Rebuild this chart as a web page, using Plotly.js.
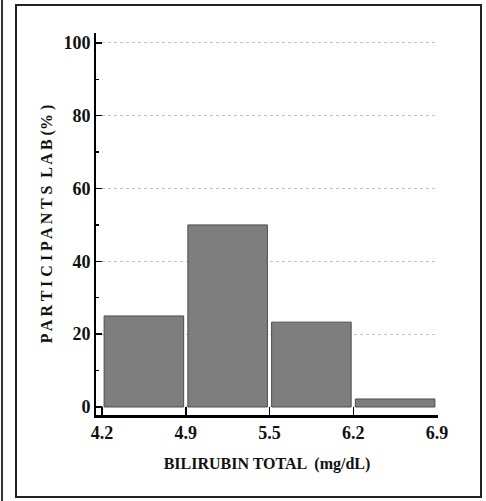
<!DOCTYPE html>
<html><head><meta charset="utf-8">
<script src="https://cdn.plot.ly/plotly-3.0.1.min.js"></script>
<style>html,body{margin:0;padding:0;background:#fff}#c{width:486px;height:501px}</style>
</head><body><div id="c"></div>
<script>
// Data
const binEdges = ["4.2", "4.9", "5.5", "6.2", "6.9"];
const binCenters = [0.5, 1.5, 2.5, 3.5];
const participantsPct = [25, 50, 23.3, 2.2];
const yTicks = [0, 20, 40, 60, 80, 100];

const W = 486, H = 501;
const L = 96, R = 48, T = 33, B = 86;
const pw = W - L - R, ph = H - T - B;
const px = v => (v - L) / pw;
const py = v => (H - B - v) / ph;

const font = "Liberation Serif, Times New Roman, serif";

Plotly.newPlot('c', [{
  type: 'bar',
  x: binCenters,
  y: participantsPct,
  width: 0.95,
  marker: {color: '#7e7e7e', line: {color: '#4d4d4d', width: 1}},
  hoverinfo: 'none'
}], {
  width: W, height: H,
  margin: {l: L, r: R, t: T, b: B, pad: 0},
  paper_bgcolor: '#fff', plot_bgcolor: '#fff',
  showlegend: false,
  xaxis: {
    range: [-0.072, 4.012],
    tickmode: 'array',
    tickvals: [0, 1, 2, 3, 4],
    ticktext: binEdges,
    ticks: 'inside', ticklen: 8, tickwidth: 1.5, tickcolor: '#000',
    showline: true, linecolor: '#000', linewidth: 2.5,
    showgrid: false, zeroline: false,
    tickfont: {family: font, size: 18, color: '#111', weight: 'bold'},
    title: {text: 'BILIRUBIN TOTAL  (mg/dL)', font: {family: font, size: 16, color: '#111', weight: 'bold'}, standoff: 16}
  },
  yaxis: {
    range: [-2.2, 102.7],
    tickmode: 'array',
    tickvals: yTicks,
    ticktext: yTicks.map(String),
    ticks: 'inside', ticklen: 6, tickwidth: 1.5, tickcolor: '#000',
    minor: {tickvals: [10, 30, 50, 70, 90], ticks: 'inside', ticklen: 3, tickcolor: '#000', showgrid: false},
    showline: true, linecolor: '#000', linewidth: 2,
    showgrid: true, gridcolor: '#c2c2c2', griddash: 'dot', gridwidth: 1,
    zeroline: false,
    tickfont: {family: font, size: 18, color: '#111', weight: 'bold'},
    title: {text: 'P A R T I C I P A N T S  L A B (% )', font: {family: font, size: 16, color: '#111', weight: 'bold'}, standoff: 7}
  },
  shapes: [
    {type: 'rect', xref: 'paper', yref: 'paper', x0: px(16), x1: px(481), y0: py(497), y1: py(5), line: {color: '#222', width: 2}, layer: 'below'},
    {type: 'line', xref: 'paper', yref: 'paper', x0: px(2), x1: px(2), y0: py(501), y1: py(0), line: {color: '#333', width: 2}}
  ]
}, {displayModeBar: false, staticPlot: true});
</script></body></html>
